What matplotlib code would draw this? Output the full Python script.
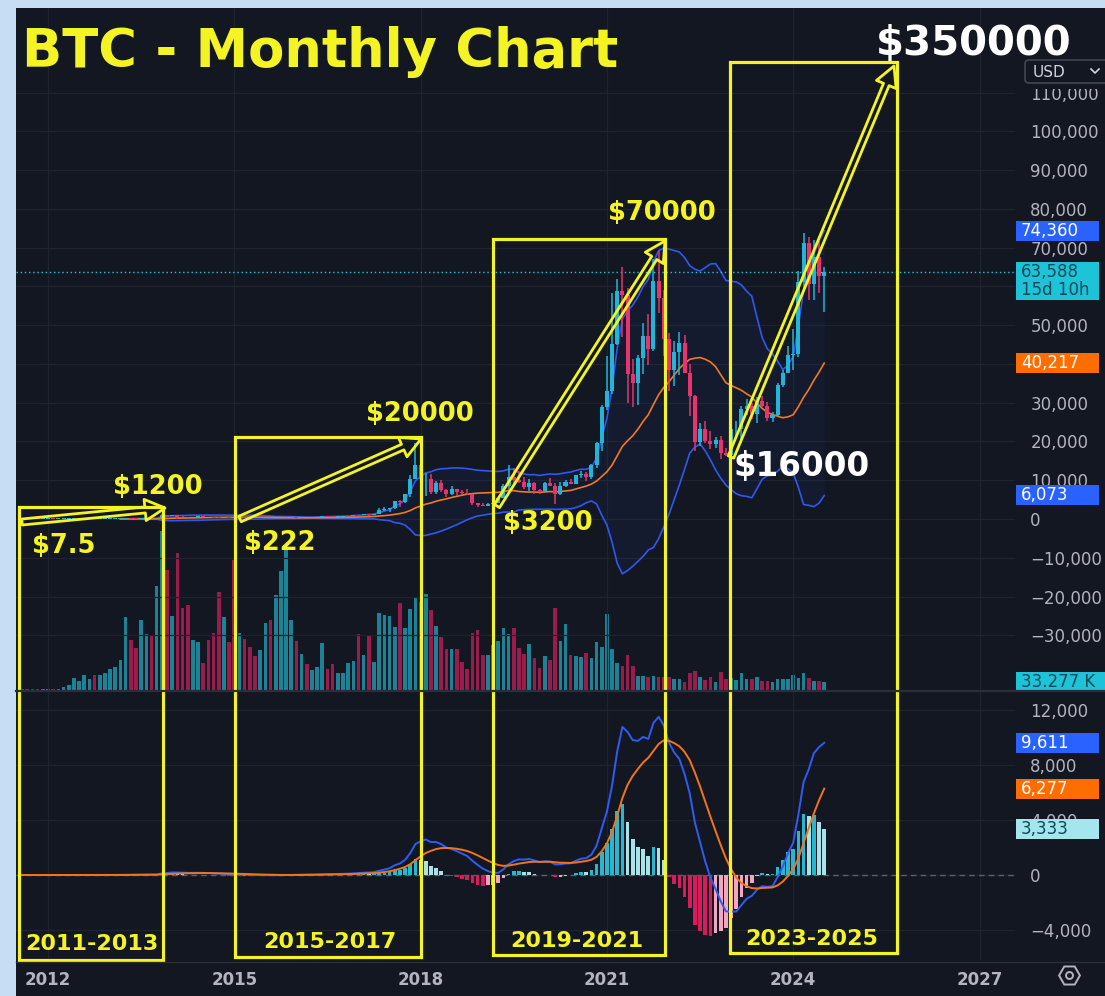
#!/usr/bin/env python3
import matplotlib

matplotlib.use("Agg")
import matplotlib.pyplot as plt
import numpy as np
import pandas as pd
from matplotlib.patches import ArrowStyle, FancyArrowPatch, FancyBboxPatch, Rectangle

# ---------------------------------------------------------------------------
# Monthly BTC candles, Aug 2011 .. Jul 2024
# ---------------------------------------------------------------------------
START_MONTH = "2011-08"
FIRST_OPEN = 13.5

closes = [
    8.2, 5.1, 3.2, 3.0, 4.7,
    5.5, 4.9, 4.9, 5.0, 5.2, 6.7, 9.4, 10.2, 12.4, 11.2, 12.6, 13.5,
    20.4, 33.4, 93.0, 139, 129, 97, 106, 135, 133, 204, 1129, 757,
    938, 573, 457, 448, 628, 640, 586, 478, 387, 338, 378, 320,
    217, 254, 244, 236, 230, 263, 284, 230, 236, 314, 377, 430,
    369, 437, 416, 448, 531, 674, 624, 575, 609, 700, 745, 964,
    963, 1190, 1080, 1350, 2300, 2480, 2880, 4700, 4340, 6470, 10200, 13860,
    10220, 10330, 6930, 9240, 7490, 6390, 7730, 7030, 6630, 6370, 4040, 3740,
    3460, 3850, 4100, 5320, 8570, 10820, 10080, 9630, 8290, 9200, 7570, 7190,
    9350, 8600, 6420, 8630, 9450, 9140, 11350, 11650, 10780, 13800, 19700, 28990,
    33100, 45200, 58800, 57700, 37300, 35000, 41500, 47100, 43800, 61300, 57000, 46300,
    38500, 43200, 45500, 37700, 31800, 19900, 23300, 20050, 19400, 20500, 17150, 16550,
    23100, 23150, 28450, 29250, 27200, 30450, 29200, 25950, 26950, 34650, 37700, 42300,
    42600, 61200, 71300, 60600, 67500, 62700, 63588,
]

highs = [
    13.5, 8.9, 5.3, 3.6, 4.8,
    7.2, 6.4, 5.4, 5.3, 5.2, 6.8, 9.6, 15.4, 12.6, 12.9, 12.9, 13.8,
    20.6, 33.6, 93, 259, 139, 130, 111, 139, 150, 219, 1163, 1155,
    1020, 865, 720, 530, 633, 680, 650, 603, 500, 416, 460, 392,
    320, 265, 300, 264, 247, 268, 318, 284, 244, 332, 502, 465,
    462, 443, 438, 468, 550, 780, 703, 626, 616, 718, 755, 979,
    1150, 1200, 1290, 1370, 2760, 2980, 2920, 4740, 4980, 6470, 11400, 19670,
    17180, 11790, 11710, 9760, 9960, 7760, 8490, 7760, 7400, 7680, 6570, 4240,
    4110, 4200, 4150, 5640, 9100, 13880, 13200, 12330, 10900, 10370, 9510, 7750,
    9580, 10500, 9180, 9470, 10070, 10390, 11450, 12480, 12090, 14100, 19850, 29300,
    41950, 58350, 61780, 64900, 59600, 41330, 42400, 50500, 52900, 67000, 69000, 59100,
    48000, 45800, 48200, 47450, 40000, 31900, 24650, 25200, 22800, 21100, 21450, 18400,
    23900, 25250, 29200, 31000, 29800, 31400, 31800, 30200, 27500, 35200, 38400, 44700,
    48900, 63900, 73800, 72800, 71900, 71950, 65100,
]

lows = [
    7.5, 4.5, 2.3, 2.0, 2.8,
    4.3, 4.3, 4.6, 4.7, 4.9, 5.2, 6.3, 7.0, 9.9, 9.9, 10.6, 12.4,
    13.2, 19.1, 33.2, 50, 96, 89, 64, 100, 105, 103, 199, 400,
    735, 100, 440, 340, 420, 555, 565, 450, 370, 275, 315, 300,
    152, 208, 235, 214, 225, 218, 253, 199, 225, 235, 300, 347,
    350, 365, 393, 413, 440, 528, 470, 465, 570, 603, 677, 741,
    752, 910, 890, 1055, 1350, 2100, 1830, 2670, 2970, 4110, 5550, 10900,
    9400, 5970, 6450, 6440, 7060, 5780, 6070, 5880, 6100, 6200, 3650, 3120,
    3350, 3370, 3830, 4030, 5340, 7520, 9070, 9350, 7710, 7300, 6520, 6430,
    6860, 8450, 3860, 6150, 8130, 8930, 8990, 10550, 9900, 10400, 13240, 17570,
    28130, 32300, 45000, 47000, 30000, 28800, 29300, 37330, 39600, 43300, 53250, 42000,
    32900, 34300, 37150, 37600, 26600, 17600, 18800, 19550, 18150, 18200, 15500, 16300,
    16500, 21350, 19550, 26900, 25800, 24800, 28900, 25400, 24900, 26550, 34100, 37600,
    38500, 41900, 59300, 56500, 56600, 58400, 53500,
]

# monthly volume, thousands
volume_k = [
    4, 4, 4, 4, 4,
    4, 4, 4, 12, 21, 50, 37, 62, 46, 62, 62, 71,
    87, 96, 125, 304, 208, 175, 291, 233, 225, 433, 661, 499,
    308, 570, 341, 354, 208, 200, 112, 208, 237, 408, 304, 200,
    541, 237, 212, 179, 141, 166, 279, 291, 395, 495, 582, 291,
    204, 150, 108, 83, 96, 196, 87, 108, 71, 71, 112, 121,
    233, 146, 225, 116, 320, 312, 308, 262, 362, 258, 337, 387,
    366, 399, 333, 266, 220, 171, 171, 171, 116, 87, 237, 250,
    146, 146, 187, 204, 258, 233, 258, 175, 150, 191, 133, 92,
    141, 125, 341, 204, 275, 146, 141, 137, 154, 133, 200, 179,
    316, 171, 112, 100, 146, 100, 58, 58, 54, 58, 54, 54,
    54, 46, 46, 33, 71, 79, 54, 42, 54, 33, 75, 46,
    50, 42, 71, 46, 46, 54, 37, 37, 33, 46, 46, 46,
    62, 50, 71, 50, 37, 37, 33.277,
]

YEAR_TICKS = [2012, 2015, 2018, 2021, 2024, 2027]
# 40,000 and 60,000 sit under value tags on the original scale
PRICE_TICKS = [-30000, -20000, -10000, 0, 10000, 20000, 30000, 50000,
               70000, 80000, 90000, 100000, 110000]
MACD_TICKS = [-4000, 0, 4000, 8000, 12000]

# value tags on the right-hand scale
price_tag_values = [74360, 63588, 40217, 6073]
price_tag_texts = ["74,360", "63,588\n15d 10h", "40,217", "6,073"]
price_tag_colors = ["#2962ff", "#1fc3d8", "#ff6d00", "#2962ff"]
price_tag_fg = ["white", "#0b4b58", "white", "white"]
volume_tag_value = 33.277
volume_tag_text = "33.277 K"
macd_tag_values = [9611, 6277, 3333]
macd_tag_texts = ["9,611", "6,277", "3,333"]
macd_tag_colors = ["#2962ff", "#ff6d00", "#a4e6ee"]
macd_tag_fg = ["white", "white", "#0b4b58"]

cycle_labels = ["2011-2013", "2015-2017", "2019-2021", "2023-2025"]
call_labels = ["$7.5", "$1200", "$222", "$20000", "$3200", "$70000", "$16000", "$350000"]

# ---------------------------------------------------------------------------
# Layout (pixels of the 1105x996 canvas) and colours
# ---------------------------------------------------------------------------
W, H = 1105, 996
PLOT_L, PLOT_R = 16, 1015
PRICE_T, PRICE_B = 8, 690
MACD_T, MACD_B = 691, 960
X2012, PX_PER_YEAR = 48, 62.1
PRICE_LIM = (-44106, 131803)
MACD_LIM = (-6182, 13382)
VOLUME_TOP = 2837

BG = "#131722"
FRAME = "#c6ddf4"
GRID = "#1f2330"
SEP = "#2a2e39"
TEXT = "#b2b5be"
UP, DOWN = "#22b5d8", "#e8336d"
VOL_UP, VOL_DOWN = "#1f96aa", "#b31d55"
BAND, BASIS = "#3158ee", "#f07a22"
MACD_C, SIGNAL_C = "#2f5cf5", "#f4741c"
HIST_UP, HIST_UP_FADE = "#27b7cf", "#a8e3ea"
HIST_DN, HIST_DN_FADE = "#d81b5a", "#f3a6c0"
YELLOW = "#f4f425"

boxes = [(19, 507, 163, 960), (235, 437, 421, 957), (493, 239, 665, 955), (730, 62, 897, 953)]
arrows = [((22, 522), (165, 508)), ((240, 519), (421, 439)),
          ((497, 506), (665, 241)), ((731, 457), (894, 66))]
cycle_pos = [(25, 950), (263, 948), (510, 947), (745, 945)]
call_pos = [(32, 553), (113, 494), (244, 550), (366, 421), (503, 530),
            (608, 220), (733, 476), (876, 55)]
call_size = [18.5, 18.5, 18.5, 18.5, 18.5, 18.5, 23.5, 29]
call_color = [YELLOW] * 6 + ["white", "white"]

# ---------------------------------------------------------------------------
# Series
# ---------------------------------------------------------------------------
months = pd.period_range(START_MONTH, periods=len(closes), freq="M")
t = months.year + (months.month - 1) / 12.0
close = pd.Series(closes, dtype=float)
opens = np.array([FIRST_OPEN] + closes[:-1], dtype=float)
up = close.values >= opens

basis = close.rolling(20).mean()
dev = close.rolling(20).std(ddof=0)
upper, lower = basis + 2 * dev, basis - 2 * dev

macd = close.ewm(span=12, adjust=False).mean() - close.ewm(span=26, adjust=False).mean()
signal = macd.ewm(span=9, adjust=False).mean()
hist = macd - signal
prev = hist.shift(1).fillna(0)
hist_colors = np.where(
    hist >= 0,
    np.where(hist > prev, HIST_UP, HIST_UP_FADE),
    np.where(hist > prev, HIST_DN_FADE, HIST_DN),
)

# ---------------------------------------------------------------------------
# Figure
# ---------------------------------------------------------------------------
fig = plt.figure(figsize=(W / 100, H / 100), dpi=100, facecolor=FRAME)
fig.add_artist(Rectangle((PLOT_L / W, 0), 1 - PLOT_L / W, 1 - PRICE_T / H,
                         transform=fig.transFigure, facecolor=BG, edgecolor="none", zorder=0))


def rect(top, bottom):
    return [PLOT_L / W, 1 - bottom / H, (PLOT_R - PLOT_L) / W, (bottom - top) / H]


ax_price = fig.add_axes(rect(PRICE_T, PRICE_B))
ax_vol = ax_price.twinx()
ax_macd = fig.add_axes(rect(MACD_T, MACD_B), sharex=ax_price)

xlim = (2012 - (X2012 - PLOT_L) / PX_PER_YEAR, 2012 + (PLOT_R - X2012) / PX_PER_YEAR)
month_w = 1 / 12.0

# volume underneath the candles
ax_vol.set_zorder(0)
ax_price.set_zorder(1)
ax_price.patch.set_visible(False)
ax_vol.bar(t, volume_k, width=0.7 * month_w, color=np.where(up, VOL_UP, VOL_DOWN),
           alpha=0.85, linewidth=0)
ax_vol.set_ylim(0, VOLUME_TOP)
ax_vol.axis("off")

# Bollinger bands
ax_price.fill_between(t, lower, upper, color="#2962ff", alpha=0.06, linewidth=0)
ax_price.plot(t, upper, color=BAND, lw=1.2)
ax_price.plot(t, lower, color=BAND, lw=1.2)
ax_price.plot(t, basis, color=BASIS, lw=1.2)

# candles
cols = np.where(up, UP, DOWN)
ax_price.vlines(t, lows, highs, colors=cols, lw=1.1, zorder=3)
body_lo = np.minimum(opens, close.values)
body_h = np.maximum(np.abs(close.values - opens), 150)
ax_price.bar(t, body_h, bottom=body_lo, width=0.78 * month_w, color=cols, linewidth=0, zorder=3)
ax_price.axhline(closes[-1], color="#26c6da", lw=1, ls=(0, (1, 2)), zorder=2)

ax_price.set_xlim(*xlim)
ax_price.set_ylim(*PRICE_LIM)
ax_price.set_yticks(PRICE_TICKS)
ax_price.set_yticklabels([f"{v:,}".replace("-", "\u2212") for v in PRICE_TICKS])

# MACD
ax_macd.set_facecolor("none")
ax_macd.bar(t, hist, width=0.7 * month_w, color=hist_colors, linewidth=0, zorder=2)
ax_macd.plot(t, macd, color=MACD_C, lw=1.4, zorder=3)
ax_macd.plot(t, signal, color=SIGNAL_C, lw=1.4, zorder=3)
ax_macd.axhline(0, color="#5d606b", lw=1, ls=(0, (4, 3)), zorder=1)
ax_macd.set_ylim(*MACD_LIM)
ax_macd.set_yticks(MACD_TICKS)
ax_macd.set_yticklabels([f"{v:,}".replace("-", "\u2212") for v in MACD_TICKS])
ax_macd.set_xticks(YEAR_TICKS)
ax_macd.set_xticklabels([str(y) for y in YEAR_TICKS], fontsize=12, fontweight="bold", color=TEXT)

for axis in (ax_price, ax_macd):
    axis.yaxis.tick_right()
    axis.tick_params(axis="y", length=0, pad=11, labelsize=12, labelcolor=TEXT)
    axis.tick_params(axis="x", length=0, pad=8)
    axis.grid(True, color=GRID, lw=0.9)
    axis.set_axisbelow(True)
    for spine in axis.spines.values():
        spine.set_visible(False)
ax_price.tick_params(axis="x", labelbottom=False)
# horizontal grid still at every 10,000 even where the label is hidden
for v in (40000, 60000):
    ax_price.axhline(v, color=GRID, lw=0.9, zorder=0)


def to_px(axis, value):
    return H - axis.transData.transform((xlim[0], value))[1]


# ---------------------------------------------------------------------------
# Overlay in pixel coordinates: drawings, tags, text
# ---------------------------------------------------------------------------
ov = fig.add_axes([0, 0, 1, 1])
ov.set_zorder(10)
ov.set_xlim(0, W)
ov.set_ylim(H, 0)
ov.axis("off")

ov.plot([PLOT_L, W], [690.5, 690.5], color=SEP, lw=1.6)
ov.plot([PLOT_L, W], [962, 962], color=SEP, lw=1.0)

for x0, y0, x1, y1 in boxes:
    ov.add_patch(Rectangle((x0, y0), x1 - x0, y1 - y0, fill=False, edgecolor=YELLOW, lw=2.3))

style = ArrowStyle("Simple", head_length=0.8, head_width=0.85, tail_width=0.24)
for a, b in arrows:
    ov.add_patch(FancyArrowPatch(a, b, arrowstyle=style, mutation_scale=18, fill=False,
                                 edgecolor=YELLOW, lw=2.0, shrinkA=0, shrinkB=0))

ov.text(22, 67, "BTC - Monthly Chart", color=YELLOW, fontsize=38, fontweight="bold",
        family="DejaVu Sans", va="baseline", ha="left")
for label, (x, y), size, colr in zip(call_labels, call_pos, call_size, call_color):
    ov.text(x, y, label, color=colr, fontsize=size, fontweight="bold",
            family="DejaVu Sans", va="baseline", ha="left")
for label, (x, y) in zip(cycle_labels, cycle_pos):
    ov.text(x, y, label, color=YELLOW, fontsize=16, fontweight="bold",
            family="DejaVu Sans", va="baseline", ha="left")


def tag(y, text, face, fg, right=1099, lines=1):
    h = 20 * lines - 2 * (lines - 1)
    ov.add_patch(Rectangle((1016, y - 10), right - 1016, h, facecolor=face, edgecolor="none"))
    ov.text(1021, y - 10 + h / 2, text, color=fg, fontsize=12, va="center", ha="left",
            linespacing=1.0)


# currency selector covering the top of the scale
ov.add_patch(Rectangle((PLOT_R + 1, 52), W - PLOT_R, 37, facecolor=BG, edgecolor="none"))
ov.add_patch(FancyBboxPatch((1025, 60), 90, 23, boxstyle="round,pad=0,rounding_size=4",
                            facecolor=BG, edgecolor="#434651", lw=1.2))
ov.text(1033, 72, "USD", color="#d1d4dc", fontsize=11, va="center", ha="left")
ov.plot([1091, 1095, 1099], [69, 73, 69], color="#d1d4dc", lw=1.2)

for v, txt, face, fg in zip(price_tag_values, price_tag_texts, price_tag_colors, price_tag_fg):
    tag(to_px(ax_price, v), txt, face, fg, lines=txt.count("\n") + 1)
tag(to_px(ax_vol, volume_tag_value), volume_tag_text, "#1fc3d8", "#0b4b58", right=W)
for v, txt, face, fg in zip(macd_tag_values, macd_tag_texts, macd_tag_colors, macd_tag_fg):
    tag(to_px(ax_macd, v), txt, face, fg)

ov.plot([1069], [975], marker="H", ms=15, mfc="none", mec=TEXT, mew=1.4)
ov.plot([1069], [975], marker="o", ms=5, mfc="none", mec=TEXT, mew=1.4)

fig.savefig("out.png", dpi=100, facecolor=FRAME)
